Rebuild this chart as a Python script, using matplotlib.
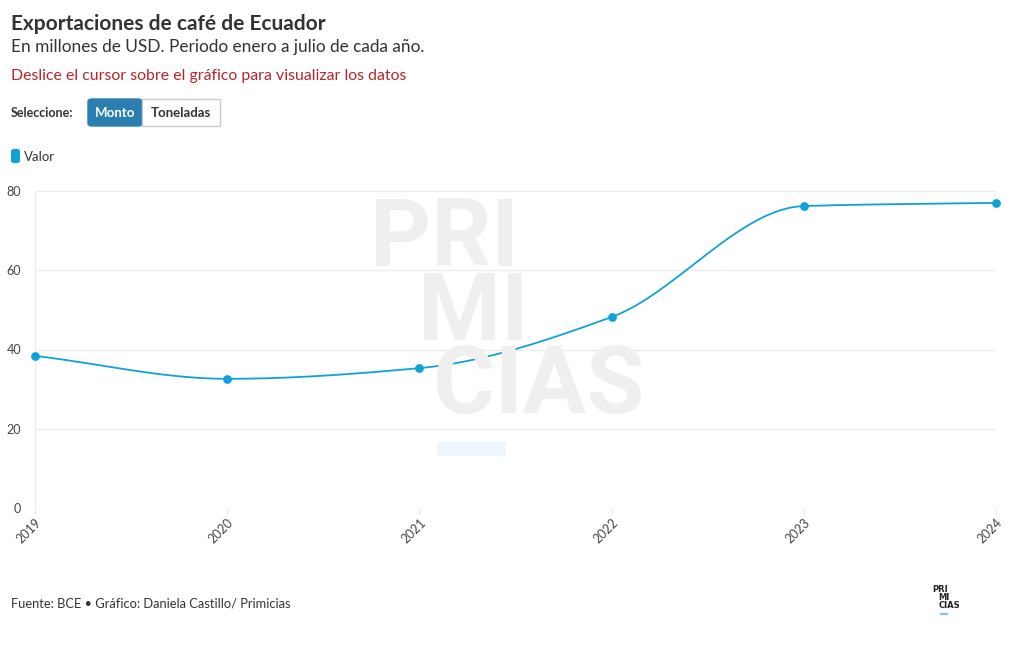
import numpy as np
import matplotlib.pyplot as plt
from matplotlib.patches import FancyBboxPatch, Rectangle

# data (millions of USD, Jan-Jul)
years = [2019, 2020, 2021, 2022, 2023, 2024]
valor = [38.4, 32.6, 35.3, 48.2, 76.2, 77.0]
y_ticks = [0, 20, 40, 60, 80]

line_color = "#0ea2d9"
text_color = "#333333"
plt.rcParams["font.family"] = ["Lato", "DejaVu Sans"]


def smooth(xs, ys, n=40):
    # monotone cubic curve through the points (no overshoot)
    xs = np.asarray(xs, float)
    ys = np.asarray(ys, float)
    h = np.diff(xs)
    d = np.diff(ys) / h
    m = np.zeros_like(ys)
    m[0], m[-1] = d[0], d[-1]
    for i in range(1, len(xs) - 1):
        if d[i - 1] * d[i] > 0:
            m[i] = 2 / (1 / d[i - 1] + 1 / d[i])
    px, py = [], []
    for i in range(len(xs) - 1):
        s = np.linspace(0, 1, n)
        h00 = 2 * s**3 - 3 * s**2 + 1
        h10 = s**3 - 2 * s**2 + s
        h01 = -2 * s**3 + 3 * s**2
        h11 = s**3 - s**2
        px.extend(xs[i] + s * h[i])
        py.extend(h00 * ys[i] + h10 * h[i] * m[i] + h01 * ys[i + 1] + h11 * h[i] * m[i + 1])
    return px, py


fig = plt.figure(figsize=(10.2, 6.5), dpi=100)
W, H = 1020, 650

# plot area: x 35..996 px, y 191 (80) .. 508 (0) px
ax = fig.add_axes([35 / W, (H - 508) / H, (996 - 35) / W, (508 - 191) / H])
ax.set_xlim(2019, 2024)
ax.set_ylim(0, 80)
for sp in ax.spines.values():
    sp.set_visible(False)
ax.set_yticks(y_ticks)
ax.set_xticks(years)
ax.set_xticklabels([str(y) for y in years], rotation=45, ha="right",
                   rotation_mode="anchor")
ax.tick_params(axis="y", length=0, labelsize=9, labelcolor="#444444", pad=10)
ax.tick_params(axis="x", length=4, color="#e6e6e6", labelsize=9,
               labelcolor="#444444", pad=2)
ax.grid(axis="y", color="#ebebeb", linewidth=0.9)
ax.axvline(2019, color="#ebebeb", linewidth=0.9)
ax.axvline(2024, color="#ebebeb", linewidth=0.9)
ax.set_axisbelow(True)

# watermark
wm = dict(fontsize=68, fontweight="bold", color="#efefef", zorder=0,
          family=["Roboto", "DejaVu Sans"], va="baseline")
fig.text(370 / W, 1 - 266 / H, "PRI", **wm)
fig.text(418 / W, 1 - 340 / H, "MI", **wm)
fig.text(433 / W, 1 - 413 / H, "CIAS", **wm)
fig.patches.append(Rectangle((437 / W, 1 - 455 / H), 68 / W, 13 / H,
                             transform=fig.transFigure, color="#eef6fd",
                             zorder=0))

sx, sy = smooth(years, valor)
ax.plot(sx, sy, color=line_color, linewidth=1.3, zorder=3, clip_on=False)
ax.scatter(years, valor, s=28, color=line_color, zorder=4, clip_on=False)

# header texts
fig.text(11 / W, 1 - 24 / H, "Exportaciones de café de Ecuador", fontsize=15,
         fontweight="bold", color=text_color, va="center")
fig.text(11 / W, 1 - 47 / H, "En millones de USD. Periodo enero a julio de cada año.",
         fontsize=12.4, color=text_color, va="center")
fig.text(11 / W, 1 - 76 / H, "Deslice el cursor sobre el gráfico para visualizar los datos",
         fontsize=11.4, color="#b5252a", va="center")

# selector buttons
fig.text(11 / W, 1 - 113 / H, "Seleccione:", fontsize=9, fontweight="bold",
         color=text_color, va="center")
fig.patches.append(FancyBboxPatch((88 / W, 1 - 126 / H), 54 / W, 27 / H,
                                  boxstyle="round,pad=0,rounding_size=0.004",
                                  transform=fig.transFigure, facecolor="#2b7fb0",
                                  edgecolor="#2b7fb0", linewidth=1))
fig.patches.append(Rectangle((142 / W, 1 - 126 / H), 78 / W, 27 / H,
                             transform=fig.transFigure, facecolor="white",
                             edgecolor="#cccccc", linewidth=1))
fig.text(115 / W, 1 - 113 / H, "Monto", fontsize=9.5, fontweight="bold",
         color="white", ha="center", va="center")
fig.text(181 / W, 1 - 113 / H, "Toneladas", fontsize=9.5, fontweight="bold",
         color=text_color, ha="center", va="center")

# legend
fig.patches.append(FancyBboxPatch((11 / W, 1 - 163 / H), 9 / W, 14 / H,
                                  boxstyle="round,pad=0,rounding_size=0.003",
                                  transform=fig.transFigure, facecolor=line_color,
                                  edgecolor="none"))
fig.text(24 / W, 1 - 157 / H, "Valor", fontsize=9.5, color=text_color, va="center")

# footer
fig.text(11 / W, 1 - 603 / H, "Fuente: BCE • Gráfico: Daniela Castillo/ Primicias",
         fontsize=9.3, color=text_color, va="center")
logo = dict(fontsize=6, fontweight="bold", color="#222222", va="center",
            family=["DejaVu Sans"])
fig.text(932 / W, 1 - 590 / H, "PRI", **logo)
fig.text(938 / W, 1 - 598 / H, "MI", **logo)
fig.text(939 / W, 1 - 606 / H, "CIAS", **logo)
fig.patches.append(Rectangle((940 / W, 1 - 614 / H), 7 / W, 1.5 / H,
                             transform=fig.transFigure, color="#7fc6e8"))

fig.savefig("out.png", dpi=100, facecolor="white")
